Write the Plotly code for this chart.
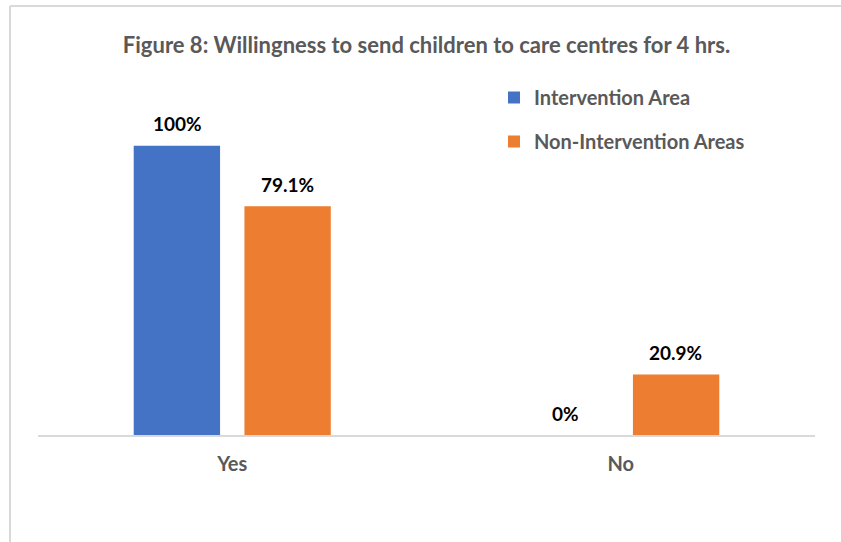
import plotly.graph_objects as go

categories = ["Yes", "No"]
intervention = [100, 0]
non_intervention = [79.1, 20.9]
series_names = ["Intervention Area", "Non-Intervention Areas"]
colors = ["#4472C4", "#ED7D31"]
title_text = "Figure 8: Willingness to send children to care centres for 4 hrs."

W, H = 841, 542
L, R, T, B = 38, 26, 88, 107
pw, ph = W - L - R, H - T - B

def px_to_paper_x(px):
    return (px - L) / pw

def px_to_paper_y(py):
    return (H - B - py) / ph

FONT = "Lato"
GRAY = "#595959"
BAR_OFFSET_PX = 55  # half the distance between grouped bar centres

fig = go.Figure()
annotations = []
for i, (name, vals, color) in enumerate(zip(series_names, [intervention, non_intervention], colors)):
    fig.add_trace(go.Bar(
        x=categories, y=vals, name=name, marker_color=color,
        marker_line_width=0, legendgroup=name,
    ))
    shift = (-1 if i == 0 else 1) * BAR_OFFSET_PX
    for cat, v in zip(categories, vals):
        annotations.append(dict(
            x=cat, y=v, xref="x", yref="y", text=f"{v:g}%", showarrow=False,
            xshift=shift, yshift=22, yanchor="middle",
            font=dict(family=FONT, size=19, color="#000000", weight="bold"),
        ))

fig.update_layout(
    width=W, height=H,
    margin=dict(l=L, r=R, t=T, b=B, pad=0),
    paper_bgcolor="white", plot_bgcolor="white",
    barmode="group", bargap=0.43, bargroupgap=0.22,
    title=dict(text=title_text, x=px_to_paper_x(426.5), xref="paper", xanchor="center",
               y=1 - 45 / H, yanchor="middle",
               font=dict(family=FONT, size=22, color=GRAY, weight="bold")),
    showlegend=True,
    legend=dict(x=px_to_paper_x(494), y=px_to_paper_y(78), xanchor="left", yanchor="top",
                font=dict(family=FONT, size=20, color=GRAY, weight="bold"),
                tracegroupgap=15, bgcolor="rgba(0,0,0,0)"),
    xaxis=dict(showline=True, linecolor="#D9D9D9", linewidth=2, ticks="",
               ticklabelstandoff=10,
               tickfont=dict(family=FONT, size=20, color=GRAY, weight="bold"),
               showgrid=False),
    yaxis=dict(range=[0, 120], visible=False, showgrid=False, zeroline=False),
    annotations=annotations,
    shapes=[
        dict(type="line", xref="paper", yref="paper",
             x0=px_to_paper_x(10), x1=px_to_paper_x(10),
             y0=px_to_paper_y(6), y1=px_to_paper_y(H + 5),
             line=dict(color="#D9D9D9", width=2)),
        dict(type="line", xref="paper", yref="paper",
             x0=px_to_paper_x(10), x1=px_to_paper_x(W + 5),
             y0=px_to_paper_y(6), y1=px_to_paper_y(6),
             line=dict(color="#D9D9D9", width=2)),
    ],
)

fig.write_html("out.html", config={"displayModeBar": False},
               post_script="document.body.style.margin='0';")
